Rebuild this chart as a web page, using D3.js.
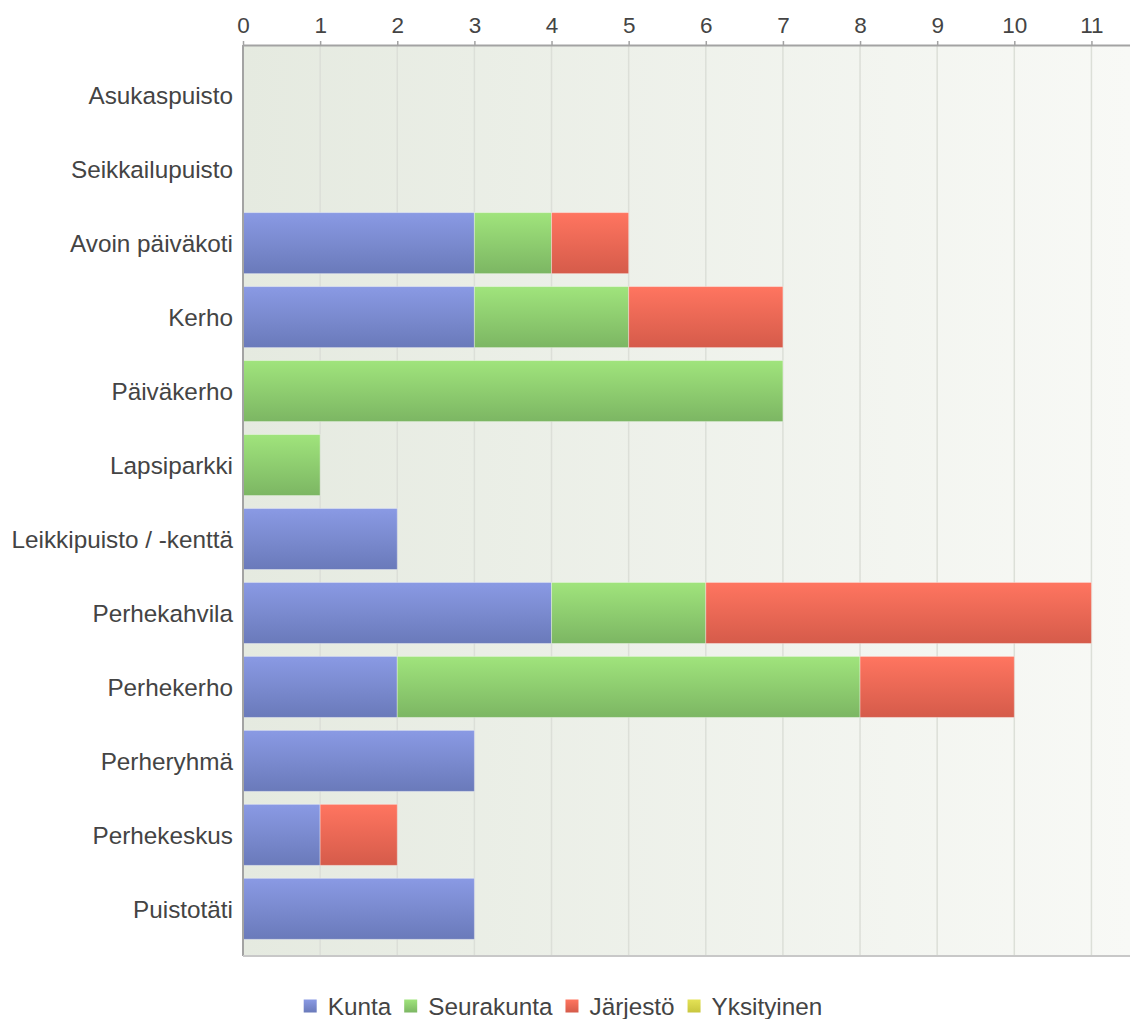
<!DOCTYPE html>
<html>
<head>
<meta charset="utf-8">
<script src="https://cdn.jsdelivr.net/npm/d3@7"></script>
<style>
  body { margin: 0; background: #fff; }
  svg text { font-family: "Liberation Sans", Arial, sans-serif; fill: #444; }
</style>
</head>
<body>
<div id="chart"></div>
<script>
const categories = ["Asukaspuisto", "Seikkailupuisto", "Avoin päiväkoti", "Kerho", "Päiväkerho",
  "Lapsiparkki", "Leikkipuisto / -kenttä", "Perhekahvila", "Perhekerho", "Perheryhmä",
  "Perhekeskus", "Puistotäti"]
const seriesNames = ["Kunta", "Seurakunta", "Järjestö", "Yksityinen"]
const kunta      = [0, 0, 3, 3, 0, 0, 2, 4, 2, 3, 1, 3]
const seurakunta = [0, 0, 1, 2, 7, 1, 0, 2, 6, 0, 0, 0]
const jarjesto   = [0, 0, 1, 2, 0, 0, 0, 5, 2, 0, 1, 0]
const yksityinen = [0, 0, 0, 0, 0, 0, 0, 0, 0, 0, 0, 0]
const xTicks = [0, 1, 2, 3, 4, 5, 6, 7, 8, 9, 10, 11]

const colors = {
  Kunta: ["#8a9ae4", "#6a7aba"],
  Seurakunta: ["#a0e47c", "#7cb663"],
  "Järjestö": ["#ff7560", "#d55b4a"],
  Yksityinen: ["#e4e256", "#c8c63e"]
}

const width = 1130, height = 1019
const margin = { top: 45, right: 0, bottom: 63, left: 243 }
const tickFont = "22.5px"
const labelFont = "24.3px"

const rows = categories.map((c, i) => ({
  name: c, Kunta: kunta[i], Seurakunta: seurakunta[i], "Järjestö": jarjesto[i], Yksityinen: yksityinen[i]
}))
const stacked = d3.stack().keys(seriesNames)(rows)

const svg = d3.select("#chart").append("svg")
  .attr("width", width)
  .attr("height", height)

const x = d3.scaleLinear().domain([0, 11.5]).range([margin.left, width - margin.right])
const y = d3.scaleBand().domain(categories)
  .range([margin.top + 13, height - margin.bottom - 10])
  .paddingInner(0.175).paddingOuter(0.09)

const defs = svg.append("defs")
// plot background, light left to right
const bg = defs.append("linearGradient").attr("id", "bg")
bg.append("stop").attr("offset", "0%").attr("stop-color", "#e5eae0")
bg.append("stop").attr("offset", "100%").attr("stop-color", "#f8f9f6")

seriesNames.forEach((s, i) => {
  const g = defs.append("linearGradient").attr("id", "grad" + i)
    .attr("x1", 0).attr("y1", 0).attr("x2", 0).attr("y2", 1)
  g.append("stop").attr("offset", "0%").attr("stop-color", colors[s][0])
  g.append("stop").attr("offset", "100%").attr("stop-color", colors[s][1])
})

svg.append("rect")
  .attr("x", margin.left).attr("y", margin.top)
  .attr("width", width - margin.right - margin.left)
  .attr("height", height - margin.bottom - margin.top)
  .attr("fill", "url(#bg)")

// vertical grid lines
svg.append("g")
  .selectAll("line")
  .data(xTicks.slice(1))
  .join("line")
  .attr("x1", d => x(d)).attr("x2", d => x(d))
  .attr("y1", margin.top).attr("y2", height - margin.bottom)
  .attr("stroke", "#dcdfd8").attr("stroke-width", 1.5)

// bars
svg.append("g")
  .selectAll("g")
  .data(stacked)
  .join("g")
  .attr("fill", (d, i) => "url(#grad" + i + ")")
  .selectAll("rect")
  .data(d => d.filter(v => v[1] - v[0] > 0))
  .join("rect")
  .attr("x", d => x(d[0]))
  .attr("y", d => y(d.data.name))
  .attr("width", d => x(d[1]) - x(d[0]))
  .attr("height", y.bandwidth())
  .attr("stroke", "rgba(255,255,255,0.35)")
  .attr("stroke-width", 1)

// top axis
const gx = svg.append("g")
  .attr("transform", "translate(0," + margin.top + ")")
  .call(d3.axisTop(x).tickValues(xTicks).tickSize(4).tickPadding(8).tickSizeOuter(0))
gx.select(".domain").attr("stroke", "#a3a3a3").attr("stroke-width", 2)
gx.selectAll(".tick line").attr("stroke", "#a3a3a3").attr("stroke-width", 1.5)
gx.selectAll("text").style("font-size", tickFont).attr("fill", "#444")

// left axis, labels only
const gy = svg.append("g")
  .attr("transform", "translate(" + margin.left + ",0)")
  .call(d3.axisLeft(y).tickSize(0).tickPadding(10))
gy.select(".domain").remove()
gy.selectAll("text").style("font-size", labelFont).attr("fill", "#444").attr("dy", "0.38em")

svg.append("line")
  .attr("x1", margin.left).attr("x2", margin.left)
  .attr("y1", margin.top).attr("y2", height - margin.bottom)
  .attr("stroke", "#a3a3a3").attr("stroke-width", 2)
svg.append("line")
  .attr("x1", margin.left).attr("x2", width)
  .attr("y1", height - margin.bottom).attr("y2", height - margin.bottom)
  .attr("stroke", "#c8c8c8").attr("stroke-width", 2)

// legend, centred under the chart
const legend = svg.append("g").attr("transform", "translate(0,1006)")
let cursor = 0
seriesNames.forEach((s, i) => {
  const item = legend.append("g").attr("transform", "translate(" + cursor + ",0)")
  item.append("rect").attr("x", 0).attr("y", -6.5).attr("width", 13).attr("height", 13)
    .attr("fill", "url(#grad" + i + ")")
  const t = item.append("text").attr("x", 24).attr("dy", "0.36em")
    .style("font-size", labelFont).attr("fill", "#444").text(s)
  cursor += 24 + t.node().getComputedTextLength() + 13
})
const legendWidth = cursor - 13
legend.attr("transform", "translate(" + (563 - legendWidth / 2) + ",1006)")
</script>
</body>
</html>
